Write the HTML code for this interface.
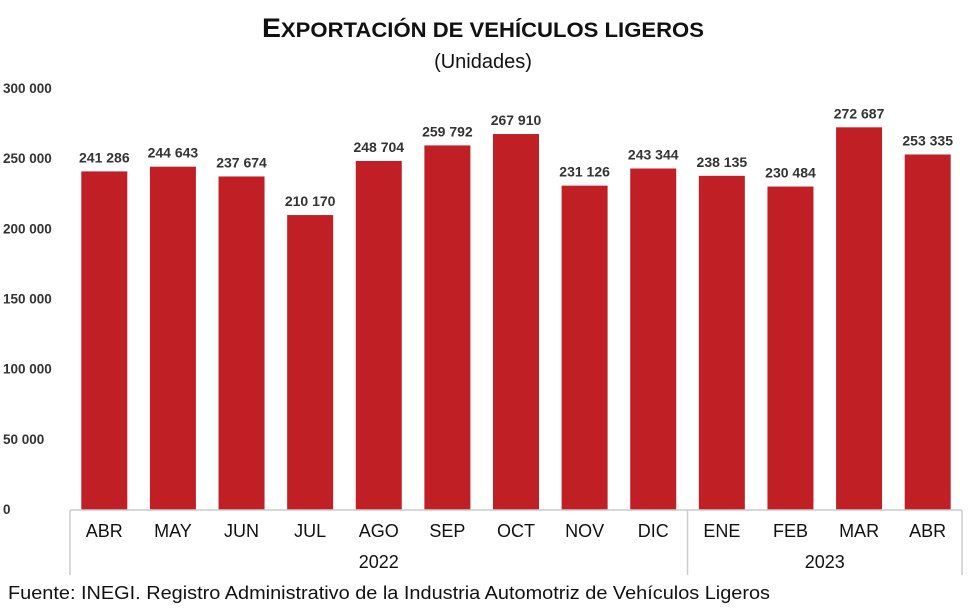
<!DOCTYPE html>
<html><head><meta charset="utf-8"><style>
html,body{margin:0;padding:0;background:#fff;}
svg{display:block;font-family:"Liberation Sans",Arial,sans-serif;}
</style></head><body>
<svg id="chart" width="974" height="614" viewBox="0 0 974 614">
<text x="262" y="37" textLength="442" lengthAdjust="spacingAndGlyphs" font-weight="bold" fill="#111"><tspan font-size="27">E</tspan><tspan font-size="21">XPORTACIÓN DE VEHÍCULOS LIGEROS</tspan></text>
<text x="483" y="68" text-anchor="middle" font-size="20" fill="#111">(Unidades)</text>
<g id="yaxis"></g>
<g id="bars"></g>
<g id="xaxis"></g>
<text x="8" y="599" font-size="18" textLength="762" lengthAdjust="spacingAndGlyphs" fill="#111">Fuente: INEGI. Registro Administrativo de la Industria Automotriz de Vehículos Ligeros</text>
</svg>
<script>
const categories = ["ABR","MAY","JUN","JUL","AGO","SEP","OCT","NOV","DIC","ENE","FEB","MAR","ABR"];
const values = [241286,244643,237674,210170,248704,259792,267910,231126,243344,238135,230484,272687,253335];
const yTicks = [0,50000,100000,150000,200000,250000,300000];
const years = ["2022","2023"];
const yearCounts = [9,4];

const NS="http://www.w3.org/2000/svg";
const x0=70,x1=962,yBase=510,yTop=89,yMax=300000;
const band=(x1-x0)/categories.length;
const yS=v=>yBase-(v/yMax)*(yBase-yTop);
const fmt=v=>String(v).replace(/\B(?=(\d{3})+(?!\d))/g," ");
function mk(tag,attrs,parent,txt){const e=document.createElementNS(NS,tag);for(const k in attrs)e.setAttribute(k,attrs[k]);if(txt!==undefined)e.textContent=txt;parent.appendChild(e);return e;}
const ya=document.getElementById('yaxis'),bg=document.getElementById('bars'),xa=document.getElementById('xaxis');
yTicks.forEach(t=>{
  const e=mk('text',{x:3,y:yS(t)+4,'font-size':13.5,'font-weight':'bold',fill:'#333'},ya,t===0?"0":fmt(t));
  
  
});
values.forEach((v,i)=>{
  const cx=x0+band*(i+0.5);
  const r=mk('rect',{x:cx-23,y:yS(v),width:46,height:yBase-yS(v),fill:'#c01f25'},bg);
  
  
  const t=mk('text',{x:cx,y:yS(v)-9,'text-anchor':'middle','font-size':14,'font-weight':'bold',fill:'#333'},bg,fmt(v));
  
  
  const c=mk('text',{x:cx,y:537,'text-anchor':'middle','font-size':18,fill:'#111'},xa,categories[i]);
  
  
});
mk('line',{x1:x0,y1:yBase,x2:x1,y2:yBase,stroke:'#ccc','stroke-width':1.5},xa);
let start=0;
mk('line',{x1:x0,y1:yBase,x2:x0,y2:575,stroke:'#ccc','stroke-width':1.5},xa);
years.forEach((y,j)=>{
  const end=start+yearCounts[j];
  const xe=x0+band*end;
  mk('line',{x1:xe,y1:yBase,x2:xe,y2:575,stroke:'#ccc','stroke-width':1.5},xa);
  const t=mk('text',{x:x0+band*(start+end)/2,y:568,'text-anchor':'middle','font-size':18,fill:'#111'},xa,y);
  
  
  start=end;
});
</script>
</body></html>
